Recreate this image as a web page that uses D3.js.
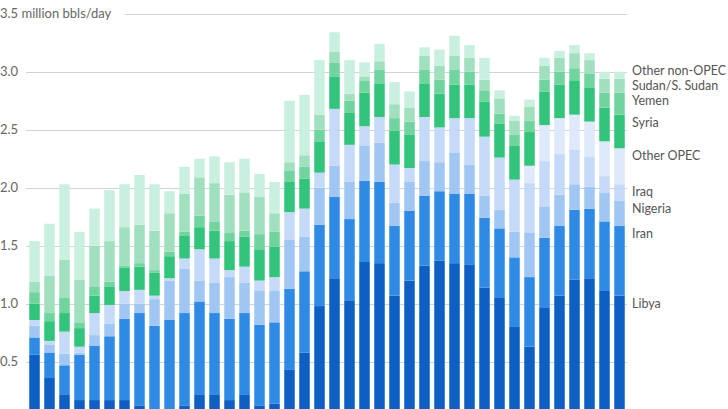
<!DOCTYPE html>
<html>
<head>
<meta charset="utf-8">
<script src="https://cdn.jsdelivr.net/npm/d3@7"></script>
<style>
    body { margin: 0; background: #fff; }
    svg { display: block; font-family: Lato, "Noto Sans", sans-serif; }
</style>
</head>
<body>
<svg width="728" height="409"></svg>
<script>
const months = ["2012-01", "2012-02", "2012-03", "2012-04", "2012-05", "2012-06", "2012-07", "2012-08", "2012-09", "2012-10",
    "2012-11", "2012-12", "2013-01", "2013-02", "2013-03", "2013-04", "2013-05", "2013-06", "2013-07", "2013-08",
    "2013-09", "2013-10", "2013-11", "2013-12", "2014-01", "2014-02", "2014-03", "2014-04", "2014-05", "2014-06",
    "2014-07", "2014-08", "2014-09", "2014-10", "2014-11", "2014-12", "2015-01", "2015-02", "2015-03", "2015-04"]

const libya = [0.56, 0.36, 0.22, 0.17, 0.17, 0.17, 0.17, 0.12, 0.07, 0.09, 0.12, 0.22, 0.22, 0.17, 0.22, 0.12, 0.14, 0.43, 0.58, 0.98,
    1.22, 1.03, 1.36, 1.35, 1.07, 1.20, 1.33, 1.37, 1.35, 1.34, 1.14, 1.05, 0.80, 0.63, 0.97, 1.07, 1.21, 1.22, 1.11, 1.07]
const iran = [0.15, 0.22, 0.25, 0.39, 0.47, 0.55, 0.70, 0.80, 0.74, 0.77, 0.80, 0.80, 0.70, 0.70, 0.70, 0.70, 0.70, 0.70, 0.70, 0.70,
    0.70, 0.70, 0.70, 0.70, 0.60, 0.60, 0.60, 0.60, 0.60, 0.61, 0.60, 0.60, 0.60, 0.60, 0.60, 0.60, 0.60, 0.60, 0.60, 0.60]
const nigeria = [0.10, 0.07, 0.10, 0.02, 0.09, 0.11, 0.13, 0.08, 0.23, 0.34, 0.38, 0.18, 0.26, 0.36, 0.26, 0.29, 0.27, 0.42, 0.30, 0.32,
    0.27, 0.32, 0.30, 0.34, 0.20, 0.25, 0.30, 0.25, 0.35, 0.25, 0.19, 0.16, 0.22, 0.38, 0.27, 0.27, 0.22, 0.19, 0.25, 0.22]
const iraq = [0.05, 0.03, 0.19, 0.05, 0.19, 0.16, 0.11, 0.12, 0.03, 0.02, 0.09, 0.27, 0.21, 0.06, 0.14, 0.09, 0.12, 0.24, 0.24, 0.13,
    0.49, 0.32, 0.17, 0.22, 0.33, 0.12, 0.38, 0.30, 0.30, 0.40, 0.51, 0.45, 0.45, 0.43, 0.39, 0.35, 0.30, 0.26, 0.14, 0.14]
const other_opec = [0, 0, 0, 0, 0, 0, 0, 0, 0, 0, 0, 0, 0, 0, 0, 0, 0, 0, 0, 0,
    0, 0, 0, 0, 0, 0, 0, 0, 0, 0, 0, 0, 0, 0.15, 0.31, 0.31, 0.30, 0.30, 0.30, 0.31]
const syria = [0.14, 0.17, 0.16, 0.16, 0.15, 0.16, 0.20, 0.20, 0.20, 0.19, 0.20, 0.19, 0.24, 0.25, 0.26, 0.27, 0.26, 0.26, 0.26, 0.27,
    0.28, 0.28, 0.29, 0.29, 0.29, 0.29, 0.29, 0.29, 0.29, 0.29, 0.30, 0.29, 0.29, 0.29, 0.29, 0.29, 0.29, 0.29, 0.29, 0.29]
const yemen = [0.10, 0.07, 0.13, 0.05, 0.08, 0.04, 0.02, 0.03, 0.02, 0.04, 0.03, 0.10, 0.08, 0.07, 0.05, 0.13, 0.13, 0.10, 0.10, 0.10,
    0.12, 0.10, 0.10, 0.12, 0.11, 0.11, 0.12, 0.12, 0.13, 0.11, 0.10, 0.09, 0.10, 0.10, 0.10, 0.11, 0.11, 0.12, 0.13, 0.19]
const sudan = [0.09, 0.32, 0.33, 0.37, 0.35, 0.35, 0.33, 0.33, 0.34, 0.33, 0.33, 0.33, 0.33, 0.33, 0.33, 0.32, 0.16, 0.07, 0.10, 0.13,
    0.09, 0.06, 0.04, 0.07, 0.12, 0.12, 0.12, 0.12, 0.12, 0.12, 0.09, 0.13, 0.12, 0.12, 0.12, 0.12, 0.13, 0.12, 0.12, 0.12]
const other_non_opec = [0.35, 0.45, 0.65, 0.41, 0.32, 0.44, 0.37, 0.43, 0.40, 0.19, 0.23, 0.16, 0.23, 0.28, 0.29, 0.20, 0.27, 0.53, 0.52, 0.47,
    0.17, 0.29, 0.12, 0.15, 0.19, 0.14, 0.07, 0.14, 0.17, 0.11, 0.19, 0.07, 0.04, 0.06, 0.07, 0.06, 0.07, 0.06, 0.06, 0.06]

const series_names = ["Libya", "Iran", "Nigeria", "Iraq", "Other OPEC", "Syria", "Yemen", "Sudan/S. Sudan", "Other non-OPEC"]
const series_values = [libya, iran, nigeria, iraq, other_opec, syria, yemen, sudan, other_non_opec]
const series_colors = ["#0d5fc3", "#2f8ae6", "#a0c6f4", "#c5daf8", "#dee9fb", "#31c47a", "#70d49f", "#a0e0bf", "#c9f0de"]

const y_ticks = [0.5, 1.0, 1.5, 2.0, 2.5, 3.0, 3.5]
const y_unit = "million bbls/day"

const plot_left = 27
const plot_right = 627
const label_x = 632
const font_size = 13
const label_font_size = 12.5
const label_gap = 15
const text_color = "#666"

const table = months.map((month, i) => {
    const row = { month: month }
    series_names.forEach((name, s) => row[name] = series_values[s][i])
    return row
})

const stacked = d3.stack().keys(series_names)(table)

const x = d3.scaleBand()
    .domain(months)
    .range([plot_left, plot_right])
    .paddingInner(0.3)
    .paddingOuter(0.15)

const y = d3.scaleLinear()
    .domain([0, 3.5])
    .range([419.8, 13.7])

const color = d3.scaleOrdinal().domain(series_names).range(series_colors)

const svg = d3.select("svg")

const grid = svg.append("g")

grid.selectAll("line")
    .data(y_ticks)
    .enter()
    .append("line")
    .attr("x1", tick => tick === 3.5 ? 125 : 26)
    .attr("x2", plot_right)
    .attr("y1", tick => Math.round(y(tick)) + 0.5)
    .attr("y2", tick => Math.round(y(tick)) + 0.5)
    .attr("stroke", "#d3d3d3")
    .attr("stroke-width", 1.2)

grid.selectAll("text")
    .data(y_ticks)
    .enter()
    .append("text")
    .attr("x", 0)
    .attr("y", tick => y(tick) + 4.5)
    .attr("fill", text_color)
    .attr("font-size", font_size)
    .text(tick => tick === 3.5 ? `${tick.toFixed(1)} ${y_unit}` : tick.toFixed(1))

const layers = svg.append("g")
    .selectAll("g")
    .data(stacked)
    .enter()
    .append("g")
    .attr("fill", layer => color(layer.key))

layers.selectAll("rect")
    .data(layer => layer)
    .enter()
    .append("rect")
    .attr("x", d => x(d.data.month))
    .attr("width", x.bandwidth())
    .attr("y", d => y(d[1]))
    .attr("height", d => Math.max(0, y(d[0]) - y(d[1])))

// labels sit at the top of each segment of the last bar, pushed up when they collide
const last = months.length - 1
const labels = stacked.map(layer => ({ name: layer.key, y: y(layer[last][1]) + 12 }))
for (let i = 1; i < labels.length; i++) {
    labels[i].y = Math.min(labels[i].y, labels[i - 1].y - label_gap)
}

svg.append("g")
    .selectAll("text")
    .data(labels)
    .enter()
    .append("text")
    .attr("x", label_x)
    .attr("y", label => label.y)
    .attr("fill", "#555")
    .attr("font-size", label_font_size)
    .text(label => label.name)
</script>
</body>
</html>
